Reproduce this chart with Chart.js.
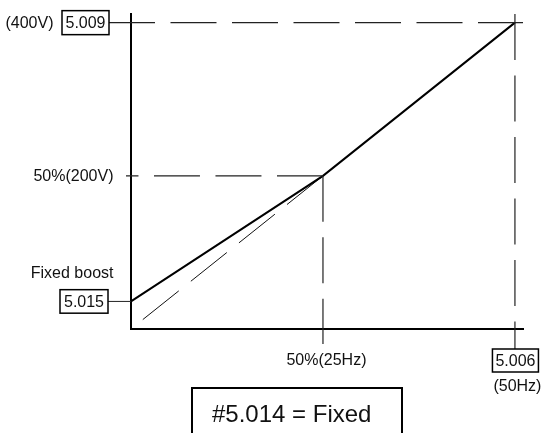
<!DOCTYPE html>
<html>
<head>
<meta charset="utf-8">
<title>V/f characteristic – fixed boost</title>
<script src="https://cdn.jsdelivr.net/npm/chart.js@4"></script>
<style>
  html, body { margin: 0; padding: 0; background: #ffffff; }
  #wrap { width: 543px; height: 433px; position: relative; }
</style>
</head>
<body>
<div id="wrap"><canvas id="vf" width="543" height="433"></canvas></div>
<script>
// V/f characteristic: output frequency (Hz) against output voltage (V)
const curveFreq = [0, 25, 50];          // Hz
const curveVolt = [36, 200, 400];       // V (fixed boost, 50 % point, rated)
const linearFreq = [25, 1.5];           // pure linear V/f reference (dashed)
const linearVolt = [200, 12];

const ratedFreq = 50, ratedVolt = 400;
const midFreq = 25, midVolt = 200;
const boostVolt = 36;

const axisMax = { freq: 51.05, volt: 411.3 };

// parameter boxes and captions
const paramRated = '5.009', paramBoost = '5.015', paramFreq = '5.006';
const yCaptions = ['(400V)', '50%(200V)', 'Fixed boost'];
const xCaptions = ['50%(25Hz)', '(50Hz)'];
const modeText = '#5.014 = Fixed';

const FONT = '"Liberation Sans", Arial, Helvetica, sans-serif';
const INK = '#111111';

function toPoints(xs, ys) { return xs.map((x, i) => ({ x, y: ys[i] })); }

const annotations = {
  id: 'vfAnnotations',
  afterDatasetsDraw(chart) {
    const ctx = chart.ctx;
    const sx = chart.scales.x, sy = chart.scales.y;
    const px = v => sx.getPixelForValue(v);
    const py = v => sy.getPixelForValue(v);
    const x0 = px(0), y0 = py(0);

    ctx.save();
    // dashed guide lines
    ctx.strokeStyle = '#222222';
    ctx.lineWidth = 1.2;
    ctx.setLineDash([46, 15.5]);
    const seg = (ax, ay, bx, by) => { ctx.beginPath(); ctx.moveTo(ax, ay); ctx.lineTo(bx, by); ctx.stroke(); };
    seg(x0 - 22, py(ratedVolt), px(axisMax.freq), py(ratedVolt));
    seg(px(midFreq), py(midVolt), x0 - 5, py(midVolt));
    seg(px(midFreq), py(midVolt), px(midFreq), y0 + 15);
    seg(px(ratedFreq), py(axisMax.volt), px(ratedFreq), y0 + 20);
    ctx.setLineDash([]);

    // leader from boost box to the voltage axis
    ctx.lineWidth = 1;
    seg(x0 - 23, py(boostVolt), x0, py(boostVolt));

    // parameter boxes
    const box = (label, cx, cy, w, h) => {
      ctx.lineWidth = 1.5;
      ctx.strokeStyle = '#000000';
      ctx.fillStyle = '#ffffff';
      ctx.fillRect(cx - w / 2, cy - h / 2, w, h);
      ctx.strokeRect(cx - w / 2, cy - h / 2, w, h);
      ctx.fillStyle = INK;
      ctx.font = '16px ' + FONT;
      ctx.textAlign = 'center';
      ctx.textBaseline = 'middle';
      ctx.fillText(label, cx, cy + 1);
    };
    box(paramRated, x0 - 22 - 23.5, py(ratedVolt), 47, 24);
    box(paramBoost, x0 - 23 - 24, py(boostVolt), 48, 23.5);
    box(paramFreq, px(ratedFreq) + 0.5, y0 + 31.5, 46, 23);

    // captions
    ctx.fillStyle = INK;
    ctx.font = '16px ' + FONT;
    ctx.textBaseline = 'middle';
    ctx.textAlign = 'right';
    ctx.fillText(yCaptions[0], x0 - 77.5, py(ratedVolt) + 1);
    ctx.fillText(yCaptions[1], x0 - 17.5, py(midVolt) + 1);
    ctx.fillText(yCaptions[2], x0 - 17.5, py(boostVolt) - 27.5);
    ctx.textAlign = 'center';
    ctx.fillText(xCaptions[0], px(midFreq) + 3.5, y0 + 32);
    ctx.fillText(xCaptions[1], px(ratedFreq) + 2.5, y0 + 58);

    // boost-mode box
    ctx.lineWidth = 2;
    ctx.strokeStyle = '#000000';
    ctx.strokeRect(192, y0 + 59, 210, 60);
    ctx.font = '24px ' + FONT;
    ctx.textAlign = 'left';
    ctx.textBaseline = 'alphabetic';
    ctx.fillText(modeText, 212, y0 + 93);
    ctx.restore();
  }
};

new Chart(document.getElementById('vf'), {
  type: 'scatter',
  data: {
    datasets: [
      {
        label: 'V/f with fixed boost',
        data: toPoints(curveFreq, curveVolt),
        showLine: true,
        borderColor: '#000000',
        borderWidth: 2,
        pointRadius: 0,
        tension: 0,
        clip: false
      },
      {
        label: 'Linear V/f',
        data: toPoints(linearFreq, linearVolt),
        showLine: true,
        borderColor: '#111111',
        borderWidth: 1,
        borderDash: [46, 15.5],
        pointRadius: 0,
        tension: 0,
        clip: false
      }
    ]
  },
  options: {
    responsive: false,
    animation: false,
    events: [],
    layout: { padding: { left: 131, right: 20, top: 14, bottom: 104 } },
    plugins: { legend: { display: false }, tooltip: { enabled: false } },
    scales: {
      x: {
        type: 'linear', min: 0, max: axisMax.freq,
        grid: { display: false, drawTicks: false },
        ticks: { display: false },
        border: { display: true, color: '#000000', width: 2 },
        afterFit: s => { s.height = 0; }
      },
      y: {
        type: 'linear', min: 0, max: axisMax.volt,
        grid: { display: false, drawTicks: false },
        ticks: { display: false },
        border: { display: true, color: '#000000', width: 2 },
        afterFit: s => { s.width = 0; }
      }
    }
  },
  plugins: [annotations]
});
</script>
</body>
</html>
